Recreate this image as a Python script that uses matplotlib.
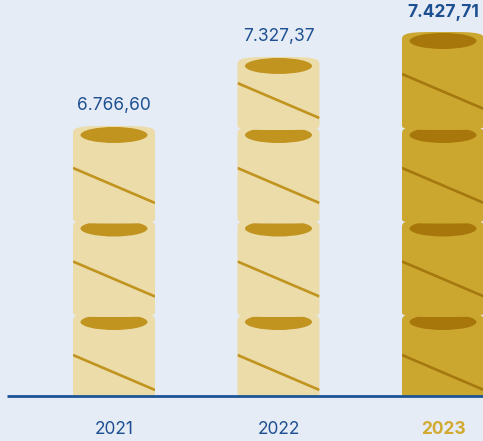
import numpy as np
import matplotlib
matplotlib.use('Agg')
import matplotlib.pyplot as plt
from matplotlib.patches import Polygon, Ellipse

# data
years = ['2021', '2022', '2023']
values = [6766.60, 7327.37, 7427.71]
# visual stack height, in coins (the picture is not to scale)
stack_heights = [2.888, 3.626, 3.893]
highlight = '2023'

BG = '#e6ecf5'
BLUE = '#1d4f91'
GOLD_TXT = '#d2aa32'
LIGHT = dict(body='#ebdcaa', dark='#c1931f', stripe='#c1931f')
STRONG = dict(body='#cca72f', dark='#a8770c', stripe='#a5780f')

W, H = 483, 441
PX_X = 164.5   # pixels per category
PX_Y = 93.5    # pixels per coin
BASE_PX = 45   # baseline distance from bottom edge
LEFT_PX = 114  # first stack centre


def fmt_eu(v):
    s = f'{v:,.2f}'
    return s.replace(',', 'X').replace('.', ',').replace('X', '.')


def superellipse_half(xc, yc, a, b, n, top=True, num=80):
    t = np.linspace(np.pi, 0, num) if top else np.linspace(0, -np.pi, num)
    c, s = np.cos(t), np.sin(t)
    x = xc + a * np.sign(c) * np.abs(c) ** (2 / n)
    y = yc + b * np.sign(s) * np.abs(s) ** (2 / n)
    return np.column_stack([x, y])


def draw_coin(ax, xc, top, low_top, colors, z):
    a = 41 / PX_X
    b = 9 / PX_Y
    upper = superellipse_half(xc, top - b, a, b, 4, top=True)
    if low_top is None:
        lower = np.array([[xc + a, 0.0], [xc - a, 0.0]])
    else:
        lower = superellipse_half(xc, low_top + 1 / PX_Y, a, 5 / PX_Y, 3.5, top=False)
    body = Polygon(np.vstack([upper, lower]), closed=True, facecolor=colors['body'],
                   edgecolor='none', zorder=z)
    ax.add_patch(body)
    ax.add_patch(Ellipse((xc, top - b), 2 * 33.5 / PX_X, 2 * 8 / PX_Y,
                         facecolor=colors['dark'], edgecolor='none', zorder=z + 0.1))
    # diagonal stripe, pulled up on a shortened top coin
    missing = 0 if low_top is None else max(0.0, 1 - (top - low_top)) * PX_Y
    r_off = (77 - 0.65 * missing) / PX_Y
    l_off = r_off - 35 / PX_Y
    ln, = ax.plot([xc - a, xc + a], [top - l_off, top - r_off], color=colors['stripe'],
                  lw=1.9, solid_capstyle='butt', zorder=z + 0.2)
    ln.set_clip_path(body)


fig = plt.figure(figsize=(W / 100, H / 100), dpi=100)
fig.patch.set_facecolor(BG)
ax = fig.add_axes([0, 0, 1, 1])
ax.set_facecolor(BG)
ax.set_xlim(-LEFT_PX / PX_X, (W - LEFT_PX) / PX_X)
ax.set_ylim(-BASE_PX / PX_Y, (H - BASE_PX) / PX_Y)
ax.axis('off')

first_top = 83 / PX_Y
for i, (yr, v, h) in enumerate(zip(years, values, stack_heights)):
    colors = STRONG if yr == highlight else LIGHT
    tops = [first_top + k for k in range(6) if first_top + k < h - 0.3] + [h]
    low = None
    for k, t in enumerate(tops):
        draw_coin(ax, i, t, low, colors, 2 + k)
        low = t
    bold = yr == highlight
    ax.text(i, h + 20 / PX_Y, fmt_eu(v), ha='center', va='center', fontsize=12.5,
            color=BLUE, fontweight='bold' if bold else 'normal', family='Inter')
    ax.text(i, -33 / PX_Y, yr, ha='center', va='center', fontsize=12.5,
            color=GOLD_TXT if bold else BLUE, fontweight='bold' if bold else 'normal',
            family='Inter')

ax.plot([(7 - LEFT_PX) / PX_X, (W - LEFT_PX) / PX_X], [0, 0], color='#1c5496', lw=2,
        solid_capstyle='butt', zorder=20)

fig.savefig('out.png', dpi=100, facecolor=BG)
